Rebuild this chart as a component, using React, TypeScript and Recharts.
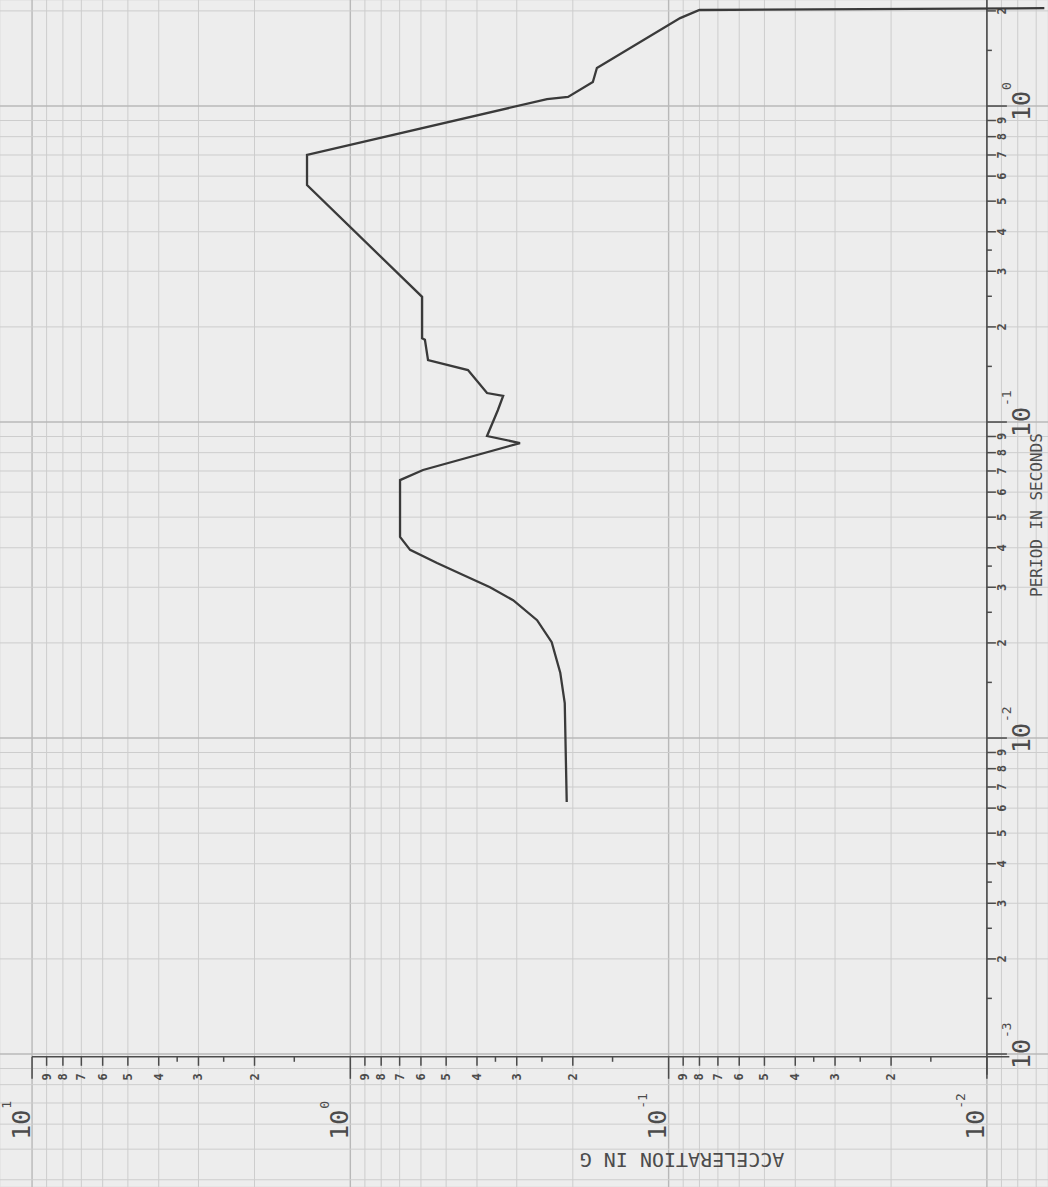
import React from 'react'
import { ScatterChart, Scatter, XAxis, YAxis, CartesianGrid, ReferenceLine } from 'recharts'

// response spectrum, short period end first
const PERIOD = [
  0.00627, 0.0129, 0.0161, 0.0201, 0.0236, 0.0273, 0.03, 0.0328, 0.0358, 0.0394,
  0.0433, 0.0655, 0.0705, 0.0858, 0.0903, 0.109, 0.121, 0.1235, 0.146, 0.157,
  0.182, 0.184, 0.249, 0.562, 0.7, 1.052, 1.068, 1.191, 1.319, 1.898, 2.013, 2.04,
]
const ACCEL = [
  0.209, 0.212, 0.219, 0.233, 0.259, 0.308, 0.364, 0.442, 0.534, 0.649,
  0.698, 0.698, 0.591, 0.293, 0.372, 0.344, 0.331, 0.372, 0.427, 0.57,
  0.583, 0.595, 0.595, 1.368, 1.368, 0.241, 0.207, 0.173, 0.168, 0.092, 0.08, 0.0066,
]

// axis furniture
const ACC_DECADES = [10, 1, 0.1, 0.01]
const ACC_EXP = ['1', '0', '-1', '-2']
const PERIOD_DECADES = [1, 0.1, 0.01, 0.001]
const PERIOD_EXP = ['0', '-1', '-2', '-3']
const LABELLED_MULT = [2, 3, 4, 5, 6, 7, 8, 9]
const HALF_MULT = [1.5, 2.5, 3.5]
const MAJOR_MULT = [1, 2, 3, 4, 5, 6, 7, 8, 9]
const FINE_MULT = [
  1.1, 1.2, 1.3, 1.4, 1.5, 1.6, 1.7, 1.8, 1.9, 2.2, 2.4, 2.6, 2.8, 3.2, 3.4, 3.6,
  3.8, 4.2, 4.4, 4.6, 4.8, 5.5, 6.5, 7.5, 8.5, 9.5,
]
const GRID_DECADES = [0.0001, 0.001, 0.01, 0.1, 1, 10]

// plot window (the scan shows the paper past both axes)
const ACC_MIN = 0.006427
const ACC_MAX = 12.61
const PER_MIN = 0.0003795
const PER_MAX = 2.1654
const AXIS_ACC = 0.01 // period axis sits at 10^-2 g
const AXIS_PER = 0.00098 // acceleration axis sits at 10^-3 s

const INK = '#4c4c4c'
const FONT = '"DejaVu Sans Mono", "Liberation Mono", monospace'

const curve = PERIOD.map((p, i) => ({ period: p, acc: ACCEL[i] }))

const within = (v: number, lo: number, hi: number) => v >= lo * 0.9999 && v <= hi * 1.0001
const gridVals = (mults: number[], lo: number, hi: number) =>
  GRID_DECADES.flatMap(d => mults.map(m => +(m * d).toPrecision(4))).filter(v => within(v, lo, hi))

const accFine = gridVals(FINE_MULT, ACC_MIN, ACC_MAX)
const perFine = gridVals(FINE_MULT, PER_MIN, PER_MAX)
const accMajor = gridVals(MAJOR_MULT, ACC_MIN, ACC_MAX)
const perMajor = gridVals(MAJOR_MULT, PER_MIN, PER_MAX)

const isDecade = (v: number) => Math.abs(Math.log10(v) - Math.round(Math.log10(v))) < 1e-6

const accTicks = [
  ...ACC_DECADES.map(d => ({ acc: d, period: AXIS_PER, kind: 'decade', label: '' })),
  ...ACC_DECADES.slice(1).flatMap(d => [
    ...LABELLED_MULT.map(m => ({ acc: +(m * d).toPrecision(3), period: AXIS_PER, kind: 'minor', label: String(m) })),
    ...HALF_MULT.map(m => ({ acc: +(m * d).toPrecision(3), period: AXIS_PER, kind: 'half', label: '' })),
  ]),
]

const perTicks = [
  ...PERIOD_DECADES.map(d => ({ acc: AXIS_ACC, period: d, kind: 'decade', label: '' })),
  ...PERIOD_DECADES.flatMap(d => [
    ...LABELLED_MULT.map(m => ({ acc: AXIS_ACC, period: +(m * d).toPrecision(3), kind: 'minor', label: String(m) })),
    ...HALF_MULT.map(m => ({ acc: AXIS_ACC, period: +(m * d).toPrecision(3), kind: 'half', label: '' })),
  ]).filter(t => t.period <= PER_MAX),
]

const accLabels = ACC_DECADES.map((d, i) => ({ acc: d, period: AXIS_PER, exp: ACC_EXP[i] }))
const perLabels = PERIOD_DECADES.map((d, i) => ({ acc: AXIS_ACC, period: d, exp: PERIOD_EXP[i] }))

const perAxis = [
  { acc: AXIS_ACC, period: 0.00086 },
  { acc: AXIS_ACC, period: 2.3 },
]
const accAxis = [
  { acc: 10, period: AXIS_PER },
  { acc: 0.0085, period: AXIS_PER },
]

function Power({ x, y, exp }: { x: number; y: number; exp: string }) {
  return (
    <g transform={`translate(${x} ${y}) rotate(-90)`} fill={INK} fontFamily={FONT}>
      <text x={0} y={0} textAnchor="middle" dominantBaseline="central" fontSize={25}>10</text>
      <text x={16} y={-15} textAnchor="start" dominantBaseline="central" fontSize={13}>{exp}</text>
    </g>
  )
}

function PerTick(props: any) {
  const { cx, cy, payload } = props
  const len = payload.kind === 'decade' ? 20 : payload.kind === 'half' ? 5 : 9
  return (
    <g>
      <line x1={cx} y1={cy} x2={cx + len} y2={cy} stroke={INK} strokeWidth={1.5} />
      {payload.label ? (
        <text x={cx + 15} y={cy} transform={`rotate(-90 ${cx + 15} ${cy})`} textAnchor="middle"
          dominantBaseline="central" fontSize={12} fontWeight="bold" fontFamily={FONT} fill={INK}>
          {payload.label}
        </text>
      ) : null}
    </g>
  )
}

function AccTick(props: any) {
  const { cx, cy, payload } = props
  const len = payload.kind === 'decade' ? 22 : payload.kind === 'half' ? 5 : 9
  return (
    <g>
      <line x1={cx} y1={cy} x2={cx} y2={cy + len} stroke={INK} strokeWidth={1.5} />
      {payload.label ? (
        <text x={cx} y={cy + 20} transform={`rotate(-90 ${cx} ${cy + 20})`} textAnchor="middle"
          dominantBaseline="central" fontSize={12} fontWeight="bold" fontFamily={FONT} fill={INK}>
          {payload.label}
        </text>
      ) : null}
    </g>
  )
}

const PerLabel = (props: any) => <Power x={props.cx + 35} y={props.cy} exp={props.payload.exp} />
const AccLabel = (props: any) => <Power x={props.cx - 11} y={props.cy + 68} exp={props.payload.exp} />
const Nothing = () => <g />

export default function App() {
  return (
    <div style={{ position: 'absolute', left: 0, top: 0, width: 1048, height: 1187, background: '#ededed', overflow: 'hidden' }}>
      <ScatterChart width={1048} height={1187} margin={{ top: 0, right: 0, bottom: 0, left: 0 }}>
        <XAxis type="number" dataKey="acc" scale="log" domain={[ACC_MIN, ACC_MAX]} allowDataOverflow reversed
          ticks={accFine} tick={false} tickLine={false} axisLine={false} height={0} />
        <YAxis type="number" dataKey="period" scale="log" domain={[PER_MIN, PER_MAX]} allowDataOverflow
          ticks={perFine} tick={false} tickLine={false} axisLine={false} width={0} />
        <CartesianGrid stroke="#dedede" strokeWidth={1} />

        {accMajor.map(v => (
          <ReferenceLine key={`ax${v}`} x={v} stroke={isDecade(v) ? '#b8b8b8' : '#cdcdcd'} strokeWidth={isDecade(v) ? 1.4 : 1} />
        ))}
        {perMajor.map(v => (
          <ReferenceLine key={`py${v}`} y={v} stroke={isDecade(v) ? '#b8b8b8' : '#cdcdcd'} strokeWidth={isDecade(v) ? 1.4 : 1} />
        ))}

        <Scatter data={perAxis} line={{ stroke: INK, strokeWidth: 1.6 }} shape={Nothing} isAnimationActive={false} />
        <Scatter data={accAxis} line={{ stroke: INK, strokeWidth: 1.6 }} shape={Nothing} isAnimationActive={false} />
        <Scatter data={perTicks} shape={PerTick} isAnimationActive={false} />
        <Scatter data={accTicks} shape={AccTick} isAnimationActive={false} />
        <Scatter data={perLabels} shape={PerLabel} isAnimationActive={false} />
        <Scatter data={accLabels} shape={AccLabel} isAnimationActive={false} />

        <Scatter data={curve} line={{ stroke: '#3a3a3a', strokeWidth: 2.3 }} shape={Nothing} isAnimationActive={false} />
      </ScatterChart>

      <svg width={1048} height={1187} style={{ position: 'absolute', left: 0, top: 0, pointerEvents: 'none' }}>
        <text x={1042} y={515} transform="rotate(-90 1042 515)" textAnchor="middle" fontSize={16}
          fontFamily={FONT} fill={INK}>PERIOD IN SECONDS</text>
        <text x={682} y={1160} transform="rotate(180 682 1160)" textAnchor="middle" dominantBaseline="central"
          fontSize={20} fontFamily={FONT} fill={INK}>ACCELERATION IN G</text>
      </svg>
    </div>
  )
}
